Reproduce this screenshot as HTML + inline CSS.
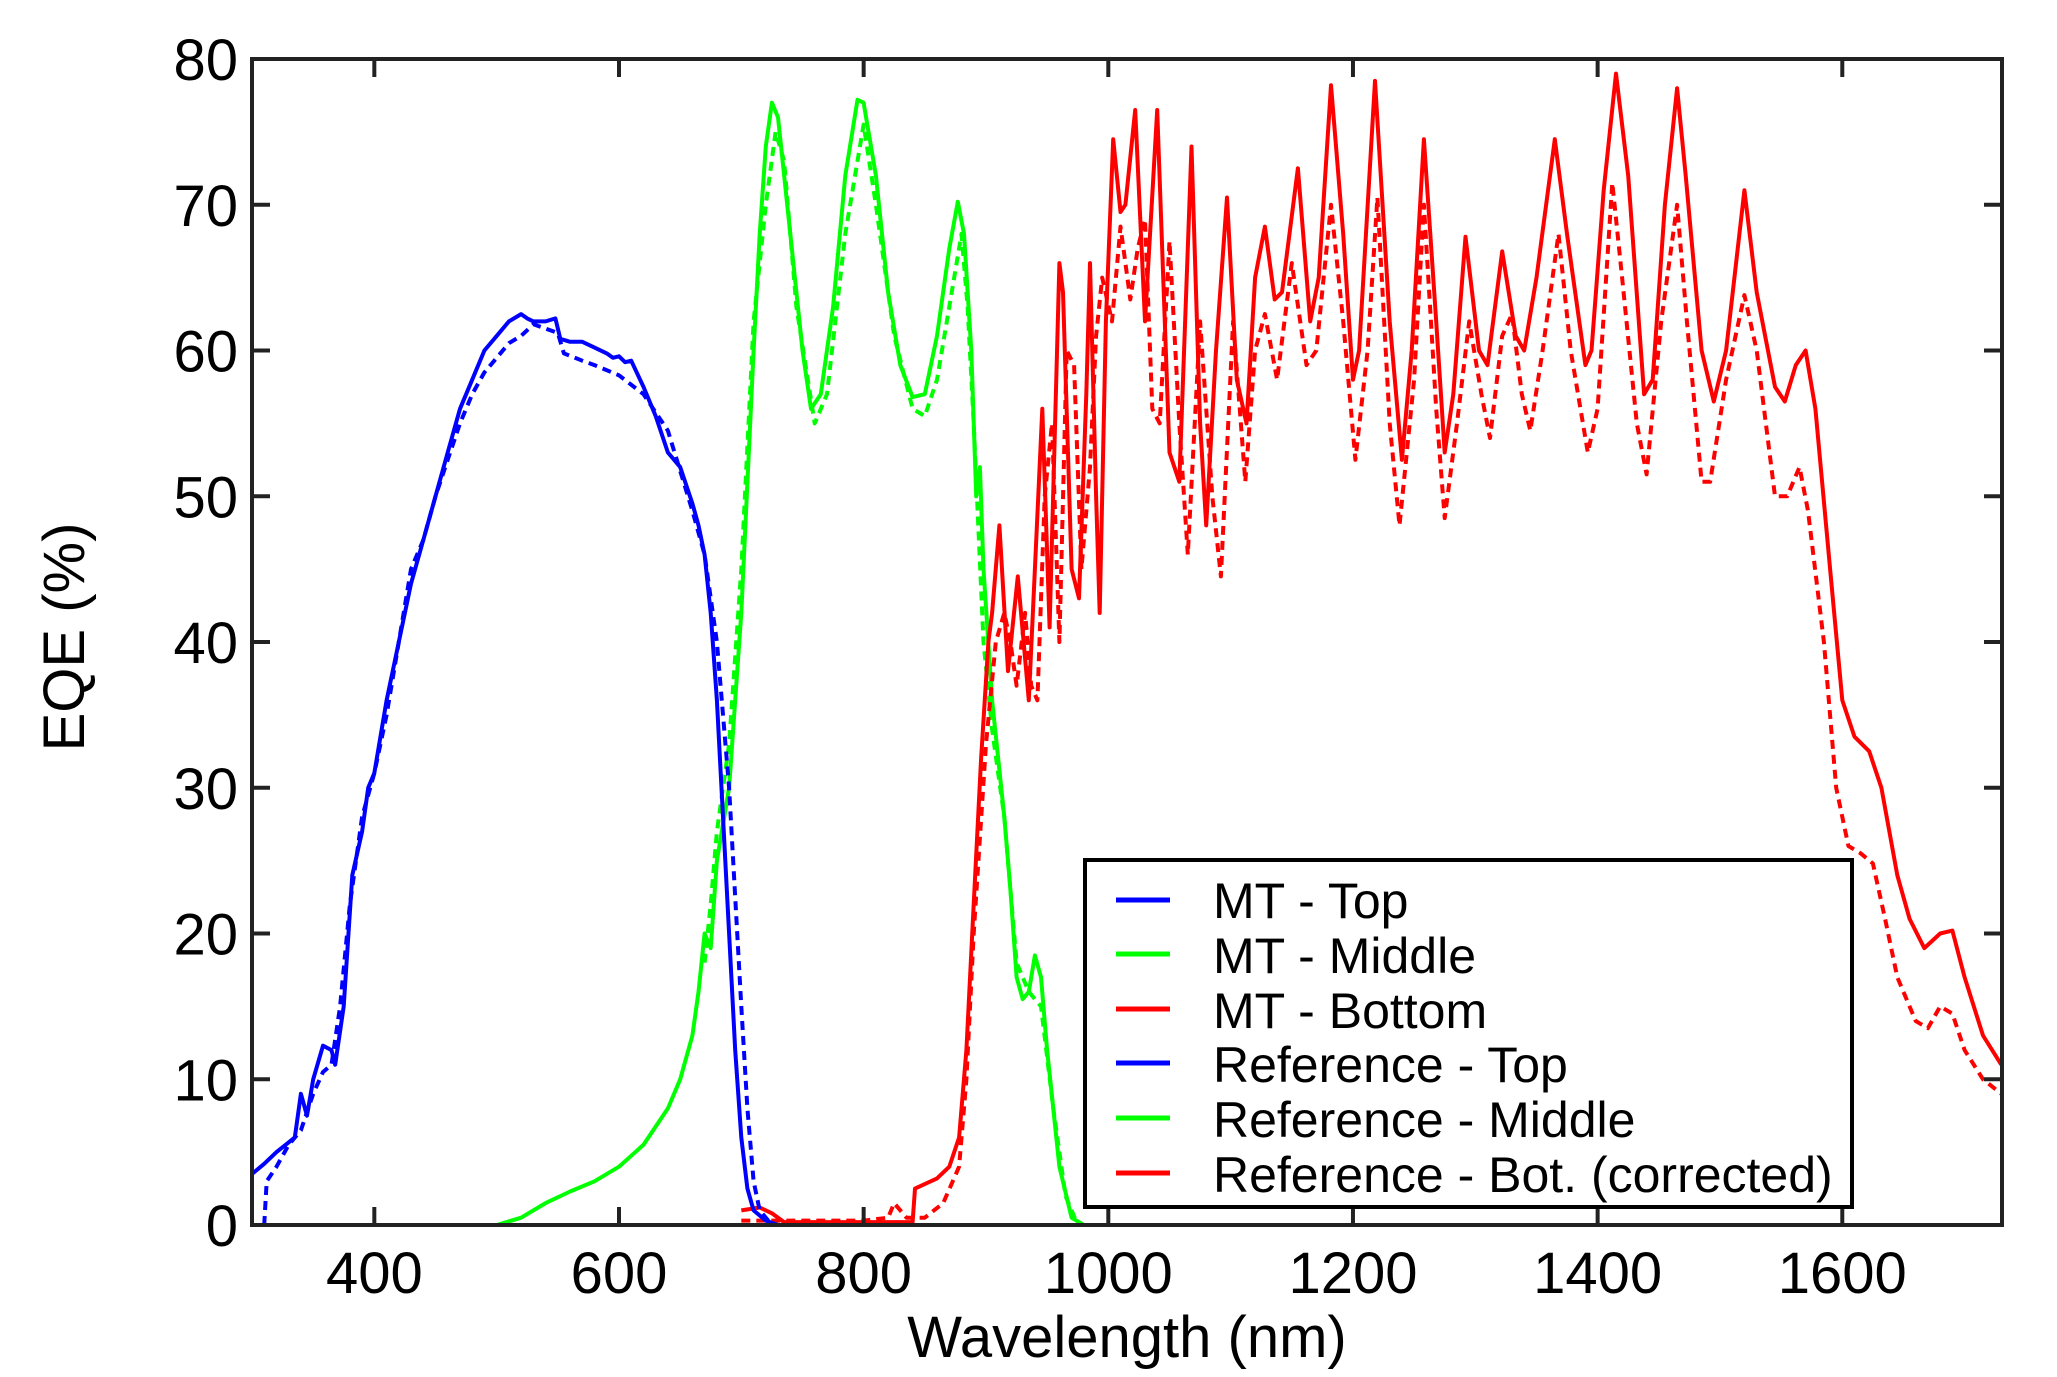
<!DOCTYPE html>
<html><head><meta charset="utf-8"><style>
html,body{margin:0;padding:0;background:#fff;}
svg{display:block;}
text{font-family:"Liberation Sans",Arial,sans-serif;fill:#000;}
</style></head><body>
<svg id="s" width="2057" height="1377" viewBox="0 0 2057 1377" xmlns="http://www.w3.org/2000/svg">
<g id="curves" fill="none" stroke-width="4" stroke-linejoin="round"></g>
<g id="axes"></g>
<rect x="1085" y="860" width="767" height="347" fill="#fff" stroke="#000" stroke-width="4"/>
<g stroke-width="5">
<line x1="1116" y1="900" x2="1170" y2="900" stroke="#0000ff"/>
<line x1="1116" y1="954" x2="1170" y2="954" stroke="#00ff00"/>
<line x1="1116" y1="1009" x2="1170" y2="1009" stroke="#ff0000"/>
<line x1="1116" y1="1063" x2="1170" y2="1063" stroke="#0000ff"/>
<line x1="1116" y1="1118" x2="1170" y2="1118" stroke="#00ff00"/>
<line x1="1116" y1="1173" x2="1170" y2="1173" stroke="#ff0000"/>
</g>
<g font-size="50">
<text x="1213" y="918">MT - Top</text>
<text x="1213" y="973">MT - Middle</text>
<text x="1213" y="1028">MT - Bottom</text>
<text x="1213" y="1082">Reference - Top</text>
<text x="1213" y="1137">Reference - Middle</text>
<text x="1213" y="1192">Reference - Bot. (corrected)</text>
</g>
<text x="1127" y="1357" font-size="58" text-anchor="middle">Wavelength (nm)</text>
<text transform="translate(84,637) rotate(-90)" font-size="58" text-anchor="middle">EQE (%)</text>
</svg>
<script>
var X=function(l){return 252+(l-300)*1.2233;},Y=function(v){return 1225-v*14.575;};
var NS="http://www.w3.org/2000/svg";
function P(pts,col,dash){var d="";pts.forEach(function(p,i){d+=(i?"L":"M")+X(p[0]).toFixed(1)+","+Y(p[1]).toFixed(1);});
var e=document.createElementNS(NS,"path");e.setAttribute("d",d);e.setAttribute("stroke",col);if(dash)e.setAttribute("stroke-dasharray","9,6");document.getElementById("curves").appendChild(e);}
var bs=[[300,3.5],[310,4.2],[320,5],[335,6],[340,9],[345,7.5],[350,10],[358,12.3],[365,12],[368,11],[375,15],[382,24],[390,27],[395,30],[400,31],[410,36],[420,40],[430,44],[440,47],[450,50],[460,53],[470,56],[480,58],[490,60],[500,61],[510,62],[520,62.5],[525,62.2],[530,62],[540,62],[548,62.2],[552,60.8],[560,60.6],[570,60.6],[580,60.2],[590,59.8],[595,59.5],[600,59.6],[605,59.2],[610,59.3],[620,57.5],[630,55.5],[640,53],[650,52],[660,49.5],[665,48],[670,46],[675,42],[680,36],[685,28],[690,20],[695,12],[700,6],[705,2.5],[710,1],[720,0.3],[730,0],[1730,0]];
var bd=[[310,0],[312,3],[320,4],[330,5.5],[340,6.5],[350,9],[358,10.5],[365,11],[372,15],[380,22],[390,28],[400,31],[410,35],[420,40],[430,45],[440,47],[450,50],[460,52.5],[470,55],[480,57],[490,58.5],[500,59.5],[510,60.5],[520,61],[530,61.8],[540,61.5],[550,61.2],[555,59.8],[570,59.3],[580,59],[600,58.3],[620,57],[640,54.5],[660,49],[670,46],[680,40],[690,30],[700,15],[705,8],[710,3],[715,1],[725,0]];
var gs=[[300,0],[500,0],[520,0.5],[540,1.5],[560,2.3],[580,3],[600,4],[620,5.5],[640,8],[650,10],[660,13],[665,16],[670,20],[675,19],[680,25],[690,30],[700,42],[710,60],[715,68],[720,74],[725,77],[730,76],[740,68],[750,60],[757,56],[765,57],[775,63],[785,72],[795,77.2],[800,77],[810,72],[820,64],[830,59],[840,56.8],[850,57],[860,61],[870,67],[877,70.2],[882,68],[888,60],[892,50],[895,52],[898,45],[905,36],[910,32],[915,28],[920,23],[925,17],[930,15.5],[935,16],[940,18.5],[945,17],[950,12],[960,4],[970,0.5],[980,0],[1000,0]];
var gd=[[670,18],[675,22],[680,27],[690,33],[700,45],[710,62],[720,70],[728,75],[735,73],[745,63],[760,55],[770,57],[785,68],[800,75.5],[810,70],[825,61],[840,56],[850,55.5],[860,58],[870,63],[880,68],[885,63],[890,55],[898,40],[905,34],[915,28],[925,18],[935,16],[945,15],[955,8],[965,2],[975,0]];
var rs=[[700,1],[715,1.2],[725,0.8],[735,0.2],[840,0.2],[842,2.5],[860,3.2],[870,4],[878,6],[884,12],[890,22],[896,32],[902,40],[905,42],[911,48],[918,38],[926,44.5],[935,36],[940,45],[946,56],[952,41],[960,66],[963,64],[970,45],[976,43],[982,57],[985,66],[990,50],[993,42],[998,62],[1004,74.5],[1010,69.5],[1014,70],[1022,76.5],[1030,62],[1040,76.5],[1050,53],[1058,51],[1068,74],[1075,55],[1080,48],[1088,60],[1097,70.5],[1105,58],[1113,55],[1120,65],[1128,68.5],[1136,63.5],[1142,64],[1155,72.5],[1165,62],[1172,65],[1182,78.2],[1192,68],[1200,58],[1205,60],[1218,78.5],[1230,62],[1240,52.5],[1248,60],[1258,74.5],[1268,62],[1275,53],[1282,57],[1292,67.8],[1303,60],[1310,59],[1322,66.8],[1333,61],[1340,60],[1350,65],[1365,74.5],[1375,68],[1390,59],[1395,60],[1405,71],[1415,79],[1425,72],[1438,57],[1445,58],[1455,70],[1465,78],[1472,72],[1485,60],[1495,56.5],[1505,60],[1520,71],[1530,64],[1545,57.5],[1553,56.5],[1562,59],[1570,60],[1578,56],[1590,45],[1600,36],[1610,33.5],[1622,32.5],[1632,30],[1645,24],[1655,21],[1667,19],[1680,20],[1690,20.2],[1700,17],[1715,13],[1730,11]];
var rd=[[700,0.3],[740,0.3],[800,0.3],[820,0.5],[825,1.5],[835,0.5],[850,0.5],[865,1.5],[878,4],[884,10],[890,20],[900,33],[908,40],[915,42],[920,40],[925,37],[932,42],[937,37],[942,36],[948,50],[954,55],[960,40],[966,60],[972,59],[978,45],[985,52],[990,61],[995,65],[1003,62],[1010,68.5],[1018,63.5],[1024,67],[1030,69],[1036,56],[1042,55],[1050,67.5],[1058,55],[1065,46],[1075,62],[1085,50],[1092,44.5],[1102,62],[1112,51],[1120,60],[1128,62.5],[1138,58],[1150,66],[1162,59],[1170,60],[1182,70],[1192,62],[1202,52.5],[1212,60],[1220,70.5],[1230,55],[1238,48],[1250,58],[1258,70],[1268,56],[1275,48.5],[1285,55],[1295,62],[1305,57],[1312,54],[1322,61],[1330,62.5],[1338,57],[1345,54.5],[1355,60],[1368,68],[1378,60],[1392,53],[1400,56],[1412,71.5],[1420,65],[1432,55],[1440,51.5],[1452,62],[1465,70],[1473,62],[1485,51],[1492,51],[1505,58],[1520,63.8],[1530,60],[1545,50],[1555,50],[1565,52],[1572,49],[1585,40],[1595,30],[1605,26],[1615,25.5],[1625,24.8],[1635,21],[1645,17],[1660,14],[1670,13.5],[1680,15],[1690,14.5],[1700,12],[1715,10],[1730,9]];
P(gs,"#00ff00");P(gd,"#00ff00",1);P(rd,"#ff0000",1);P(rs,"#ff0000");P(bd,"#0000ff",1);P(bs,"#0000ff");
var a=document.getElementById("axes"),h='<rect x="252" y="59" width="1750" height="1166" fill="none" stroke="#222" stroke-width="4"/>';
for(var v=0;v<=80;v+=10){var y=Y(v);h+='<line x1="252" y1="'+y+'" x2="270" y2="'+y+'" stroke="#222" stroke-width="4"/><line x1="1984" y1="'+y+'" x2="2002" y2="'+y+'" stroke="#222" stroke-width="4"/><text x="238" y="'+(y+21)+'" font-size="58" text-anchor="end">'+v+'</text>';}
for(var l=400;l<=1600;l+=200){var x=X(l);h+='<line x1="'+x+'" y1="1225" x2="'+x+'" y2="1207" stroke="#222" stroke-width="4"/><line x1="'+x+'" y1="59" x2="'+x+'" y2="77" stroke="#222" stroke-width="4"/><text x="'+x+'" y="1293" font-size="58" text-anchor="middle">'+l+'</text>';}
a.innerHTML=h;
</script>
</body></html>
